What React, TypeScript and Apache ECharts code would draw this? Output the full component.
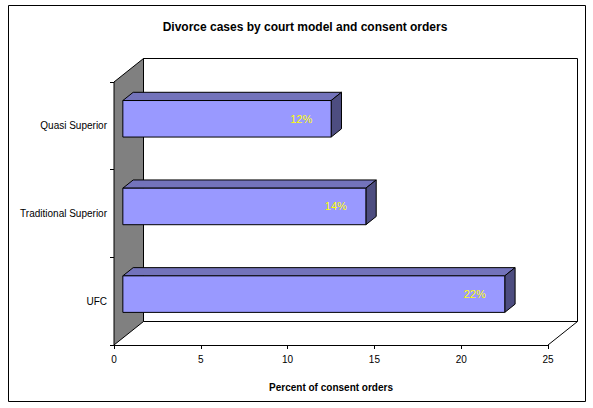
import React, { useEffect, useRef } from "react";
import * as echarts from "echarts";

const categories = ["UFC", "Traditional Superior", "Quasi Superior"];
const consentPercent = [22, 14, 12];
const xTicks = { min: 0, max: 25, interval: 5 };
const titleText = "Divorce cases by court model and consent orders";
const xAxisTitle = "Percent of consent orders";

const FONT = "'Liberation Sans', Arial, sans-serif";
const DEPTH_X = 29.5;
const DEPTH_Y = -23.5;
const BAR_SHIFT = 0.3;
const BAR_BACK = 0.65;

export default function App() {
  const ref = useRef<HTMLDivElement>(null);

  useEffect(() => {
    if (!ref.current) return;
    const chart = echarts.init(ref.current, null, { renderer: "svg" });

    const barData = consentPercent.map((v, i) => [v, i]);

    const option: any = {
      animation: false,
      backgroundColor: "#ffffff",
      title: {
        text: titleText,
        left: 300,
        top: 16,
        textAlign: "center",
        textStyle: { fontFamily: FONT, fontSize: 12, fontWeight: "bold", color: "#000" },
      },
      grid: { left: 114, right: 45, top: 82, bottom: 63 },
      xAxis: {
        type: "value",
        min: xTicks.min,
        max: xTicks.max,
        interval: xTicks.interval,
        splitLine: { show: false },
        axisLine: { show: true, lineStyle: { color: "#000", width: 1 } },
        axisTick: { show: true, length: 4, lineStyle: { color: "#000" } },
        axisLabel: { fontFamily: FONT, fontSize: 10, color: "#000", margin: 9 },
        name: xAxisTitle,
        nameLocation: "middle",
        nameGap: 37,
        nameTextStyle: { fontFamily: FONT, fontSize: 10, fontWeight: "bold", color: "#000" },
      },
      yAxis: {
        type: "category",
        data: categories,
        axisLine: { show: true, lineStyle: { color: "#000", width: 1 } },
        axisTick: { show: true, length: 4, lineStyle: { color: "#000" } },
        axisLabel: { fontFamily: FONT, fontSize: 10, color: "#000", margin: 7 },
        splitLine: { show: false },
      },
      graphic: [
        {
          type: "rect",
          shape: { x: 8.5, y: 5.5, width: 577, height: 396 },
          style: { fill: "none", stroke: "#000", lineWidth: 1 },
          silent: true,
          z: 100,
        },
      ],
      series: [
        {
          type: "custom",
          z: 1,
          silent: true,
          data: [[0, 0]],
          renderItem: (params: any) => {
            const cs = params.coordSys;
            const x0 = cs.x, y0 = cs.y, w = cs.width, h = cs.height;
            return {
              type: "group",
              children: [
                {
                  type: "rect",
                  shape: { x: x0 + DEPTH_X, y: y0 + DEPTH_Y, width: w, height: h },
                  style: { fill: "#ffffff", stroke: "#000", lineWidth: 1 },
                },
                {
                  type: "polygon",
                  shape: {
                    points: [
                      [x0, y0],
                      [x0 + DEPTH_X, y0 + DEPTH_Y],
                      [x0 + DEPTH_X, y0 + h + DEPTH_Y],
                      [x0, y0 + h],
                    ],
                  },
                  style: { fill: "#808080", stroke: "#000", lineWidth: 1 },
                },
                {
                  type: "line",
                  shape: { x1: x0 + w, y1: y0 + h, x2: x0 + w + DEPTH_X, y2: y0 + h + DEPTH_Y },
                  style: { stroke: "#000", lineWidth: 1 },
                },
              ],
            };
          },
        },
        {
          type: "custom",
          z: 3,
          silent: true,
          encode: { x: 0, y: 1 },
          data: barData,
          renderItem: (params: any, api: any) => {
            const v = api.value(0);
            const c = api.value(1);
            const p0 = api.coord([0, c]);
            const p1 = api.coord([v, c]);
            const band = api.size([0, 1])[1];
            const bh = band / 2.4;
            const sx = DEPTH_X * BAR_SHIFT;
            const sy = DEPTH_Y * BAR_SHIFT;
            const bx = DEPTH_X * (BAR_BACK - BAR_SHIFT);
            const by = DEPTH_Y * (BAR_BACK - BAR_SHIFT);
            const xl = p0[0] + sx;
            const xr = p1[0] + sx;
            const yt = p0[1] + sy - bh / 2;
            const yb = yt + bh;
            return {
              type: "group",
              children: [
                {
                  type: "polygon",
                  shape: { points: [[xl, yt], [xl + bx, yt + by], [xr + bx, yt + by], [xr, yt]] },
                  style: { fill: "#7373BB", stroke: "#000", lineWidth: 1 },
                },
                {
                  type: "polygon",
                  shape: { points: [[xr, yt], [xr + bx, yt + by], [xr + bx, yb + by], [xr, yb]] },
                  style: { fill: "#4D4D80", stroke: "#000", lineWidth: 1 },
                },
                {
                  type: "rect",
                  shape: { x: xl, y: yt, width: xr - xl, height: bh },
                  style: { fill: "#9999FF", stroke: "#000", lineWidth: 1 },
                },
                {
                  type: "text",
                  style: {
                    x: xr - 30,
                    y: (yt + yb) / 2,
                    text: `${v}%`,
                    fill: "#FFFF00",
                    font: `11px ${FONT}`,
                    align: "center",
                    verticalAlign: "middle",
                  },
                },
              ],
            };
          },
        },
      ],
    };

    chart.setOption(option);
    return () => chart.dispose();
  }, []);

  return (
    <div
      ref={ref}
      style={{ position: "absolute", left: 0, top: 0, width: 593, height: 408 }}
    />
  );
}
